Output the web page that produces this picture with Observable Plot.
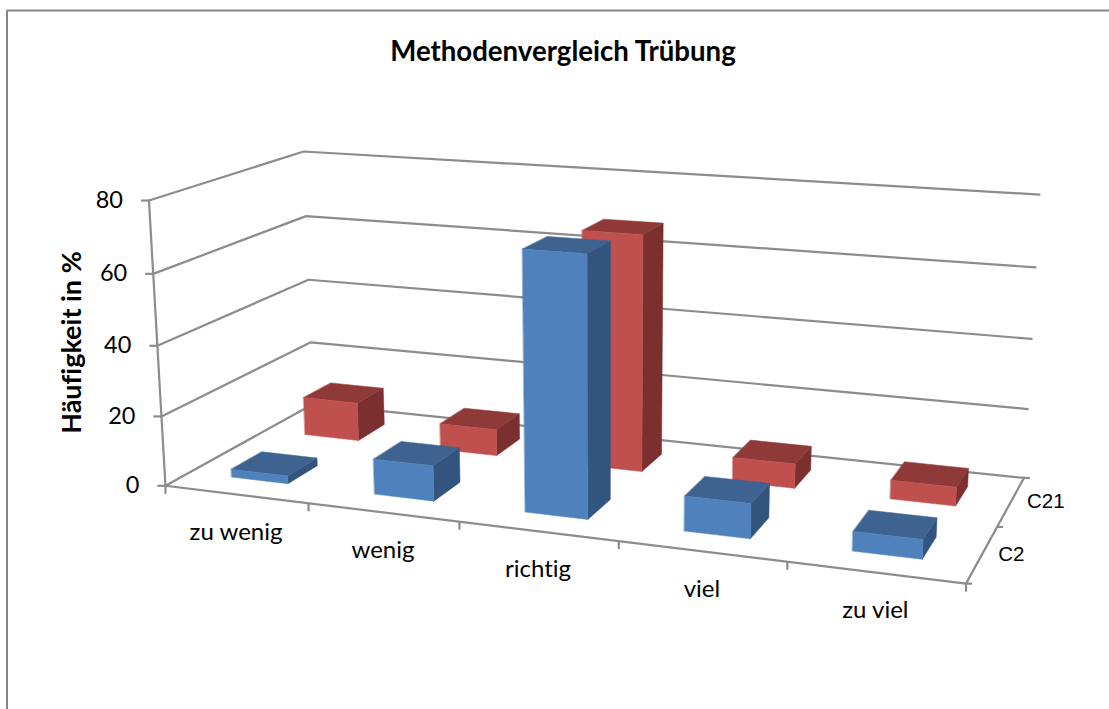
<!DOCTYPE html>
<html><head><meta charset="utf-8">
<style>html,body{margin:0;padding:0;background:#fff;overflow:hidden} svg text{font-variant-ligatures:none;font-feature-settings:"liga" 0}</style>
<script src="https://cdn.jsdelivr.net/npm/d3@7"></script>
<script src="https://cdn.jsdelivr.net/npm/@observablehq/plot@0.6"></script>
</head><body><div id="chart"></div>
<script>
const title = "Methodenvergleich Trübung";
const yLabel = "Häufigkeit in %";
const categories = ["zu wenig","wenig","richtig","viel","zu viel"];
const seriesNames = ["C2","C21"];
const c2Values  = [2.3, 10, 71.3, 9.5, 5.2];
const c21Values = [11.5, 7.8, 68, 7, 5.3];
const yTicks = [0,20,40,60,80];

// Camera calibration of the 3D box: [category pos, depth, value, screen x, screen y]
const calib = [
 [0,0,0,165,485],[0,0,20,161,416],[0,0,40,158,345],[0,0,60,153,273],[0,0,80,148,200],
 [0,1,0,313,404],[0,1,20,310.5,342],[0,1,40,308,279],[0,1,60,305,215.5],[0,1,80,303,151],
 [5,1,0,1023,477],[5,1,20,1028,408],[5,1,40,1031,338],[5,1,60,1035,267],[5,1,80,1039,195],
 [1,0,0,307,503],[2,0,0,459,521.5],[3,0,0,618,541],[4,0,0,787,561.5],[5,0,0,965.5,583]
];
function fitCamera(pts){
  const n=11, A=Array.from({length:n},()=>new Array(n+1).fill(0));
  const add=(r,t)=>{for(let i=0;i<n;i++){for(let j=0;j<n;j++)A[i][j]+=r[i]*r[j];A[i][n]+=r[i]*t;}};
  for(const [u,v,hh,x,y] of pts){
    const h=hh/80;
    add([u,v,h,1,0,0,0,0,-x*u,-x*v,-x*h],x);
    add([0,0,0,0,u,v,h,1,-y*u,-y*v,-y*h],y);
  }
  for(let c=0;c<n;c++){
    let p=c;for(let r=c+1;r<n;r++)if(Math.abs(A[r][c])>Math.abs(A[p][c]))p=r;
    [A[c],A[p]]=[A[p],A[c]];
    for(let r=0;r<n;r++){if(r===c)continue;const f=A[r][c]/A[c][c];for(let k=c;k<=n;k++)A[r][k]-=f*A[c][k];}
  }
  return A.map((r,i)=>r[n]/r[i]);
}
const P=fitCamera(calib);
function project(u,v,val){
  const h=val/80, w=P[8]*u+P[9]*v+P[10]*h+1;
  return {x:(P[0]*u+P[1]*v+P[2]*h+P[3])/w, y:(P[4]*u+P[5]*v+P[6]*h+P[7])/w};
}

const barW=0.4, barD=0.2;
function faces(values,row){
  const side=[],top=[],front=[];
  const vc=(row+0.5)/2;
  values.forEach((val,i)=>{
    const u0=i+0.5-barW/2,u1=i+0.5+barW/2,v0=vc-barD/2,v1=vc+barD/2;
    const poly=(arr,pts)=>pts.forEach(p=>arr.push({id:categories[i],...project(...p)}));
    poly(side,[[u1,v0,0],[u1,v1,0],[u1,v1,val],[u1,v0,val]]);
    poly(top,[[u0,v0,val],[u1,v0,val],[u1,v1,val],[u0,v1,val]]);
    poly(front,[[u0,v0,0],[u1,v0,0],[u1,v0,val],[u0,v0,val]]);
  });
  return {side,top,front};
}
const faceMark=(data,color)=>Plot.line(data,{x:"x",y:"y",z:"id",curve:"linear-closed",fill:color,stroke:color,strokeWidth:0.5});
const barMarks=(values,row,cols)=>{
  const f=faces(values,row);
  return [faceMark(f.side,cols[0]),faceMark(f.top,cols[1]),faceMark(f.front,cols[2])];
};

const grid="#8c8c8c", gridW=2.2;
const gridLines=yTicks.flatMap(t=>[[0,0,t],[0,1,t],[5,1,t]].map(p=>({t,...project(...p)})));
const floorEdge=[[0,0,0],[5,0,0],[5,1,0]].map(p=>project(...p));
const yAxisLine=[[0,0,0],[0,0,80]].map(p=>project(...p));
const yTickData=yTicks.map(t=>({t,...project(0,0,t)}));
const xTickData=d3.range(0,6).map(u=>project(u,0,0));
const zTickData=[0,0.5,1].map(v=>project(5,v,0));
const catData=categories.map((c,i)=>({c,...project(i+0.5,0,0)}));
const depthData=seriesNames.map((s,i)=>({s,...project(5,(i+0.5)/2,0)}));
const lato="Lato, Carlito, sans-serif";

const plot=Plot.plot({
  width:1109,height:709,margin:0,
  style:{background:"#fff",fontFamily:lato,overflow:"visible"},
  x:{domain:[0,1109],range:[0,1109],axis:null},
  y:{domain:[0,709],range:[0,709],axis:null},
  marks:[
    Plot.ruleY([10],{x1:6.5,x2:1109,stroke:"#868686",strokeWidth:2}),
    Plot.ruleX([6.5],{y1:10,y2:709,stroke:"#868686",strokeWidth:2}),
    Plot.line(gridLines,{x:"x",y:"y",z:"t",stroke:grid,strokeWidth:gridW}),
    Plot.line(floorEdge,{x:"x",y:"y",stroke:grid,strokeWidth:gridW}),
    Plot.line(yAxisLine,{x:"x",y:"y",stroke:grid,strokeWidth:gridW}),
    Plot.link(yTickData,{x1:"x",y1:"y",x2:d=>d.x-8,y2:"y",stroke:grid,strokeWidth:gridW}),
    Plot.link(xTickData,{x1:"x",y1:"y",x2:"x",y2:d=>d.y+8,stroke:grid,strokeWidth:gridW}),
    Plot.link(zTickData,{x1:"x",y1:"y",x2:d=>d.x+6,y2:"y",stroke:grid,strokeWidth:gridW}),
    ...barMarks(c21Values,1,["#7b2f2e","#8f3a38","#c0504d"]),
    ...barMarks(c2Values,0,["#33547e","#3e6390","#4f81bd"]),
    Plot.text(yTickData,{x:d=>d.x-26,y:"y",text:d=>String(d.t),textAnchor:"end",fontSize:23.5,fill:"#000",fontFamily:lato}),
    Plot.text(catData,{x:"x",y:d=>d.y+38,text:"c",fontSize:24,fill:"#000",fontFamily:lato}),
    Plot.text(depthData,{x:d=>d.x+16,y:"y",text:"s",textAnchor:"start",fontSize:20.5,fill:"#000",fontFamily:"Liberation Sans"}),
    Plot.text([title],{x:()=>562.5,y:()=>52,text:d=>d,fontSize:27.6,fontWeight:"bold",fill:"#000",fontFamily:lato}),
    Plot.text([yLabel],{x:()=>72,y:()=>342,text:d=>d,rotate:-90,fontSize:27,fontWeight:"bold",fill:"#000",fontFamily:lato})
  ]
});
document.getElementById("chart").append(plot);
</script></body></html>
